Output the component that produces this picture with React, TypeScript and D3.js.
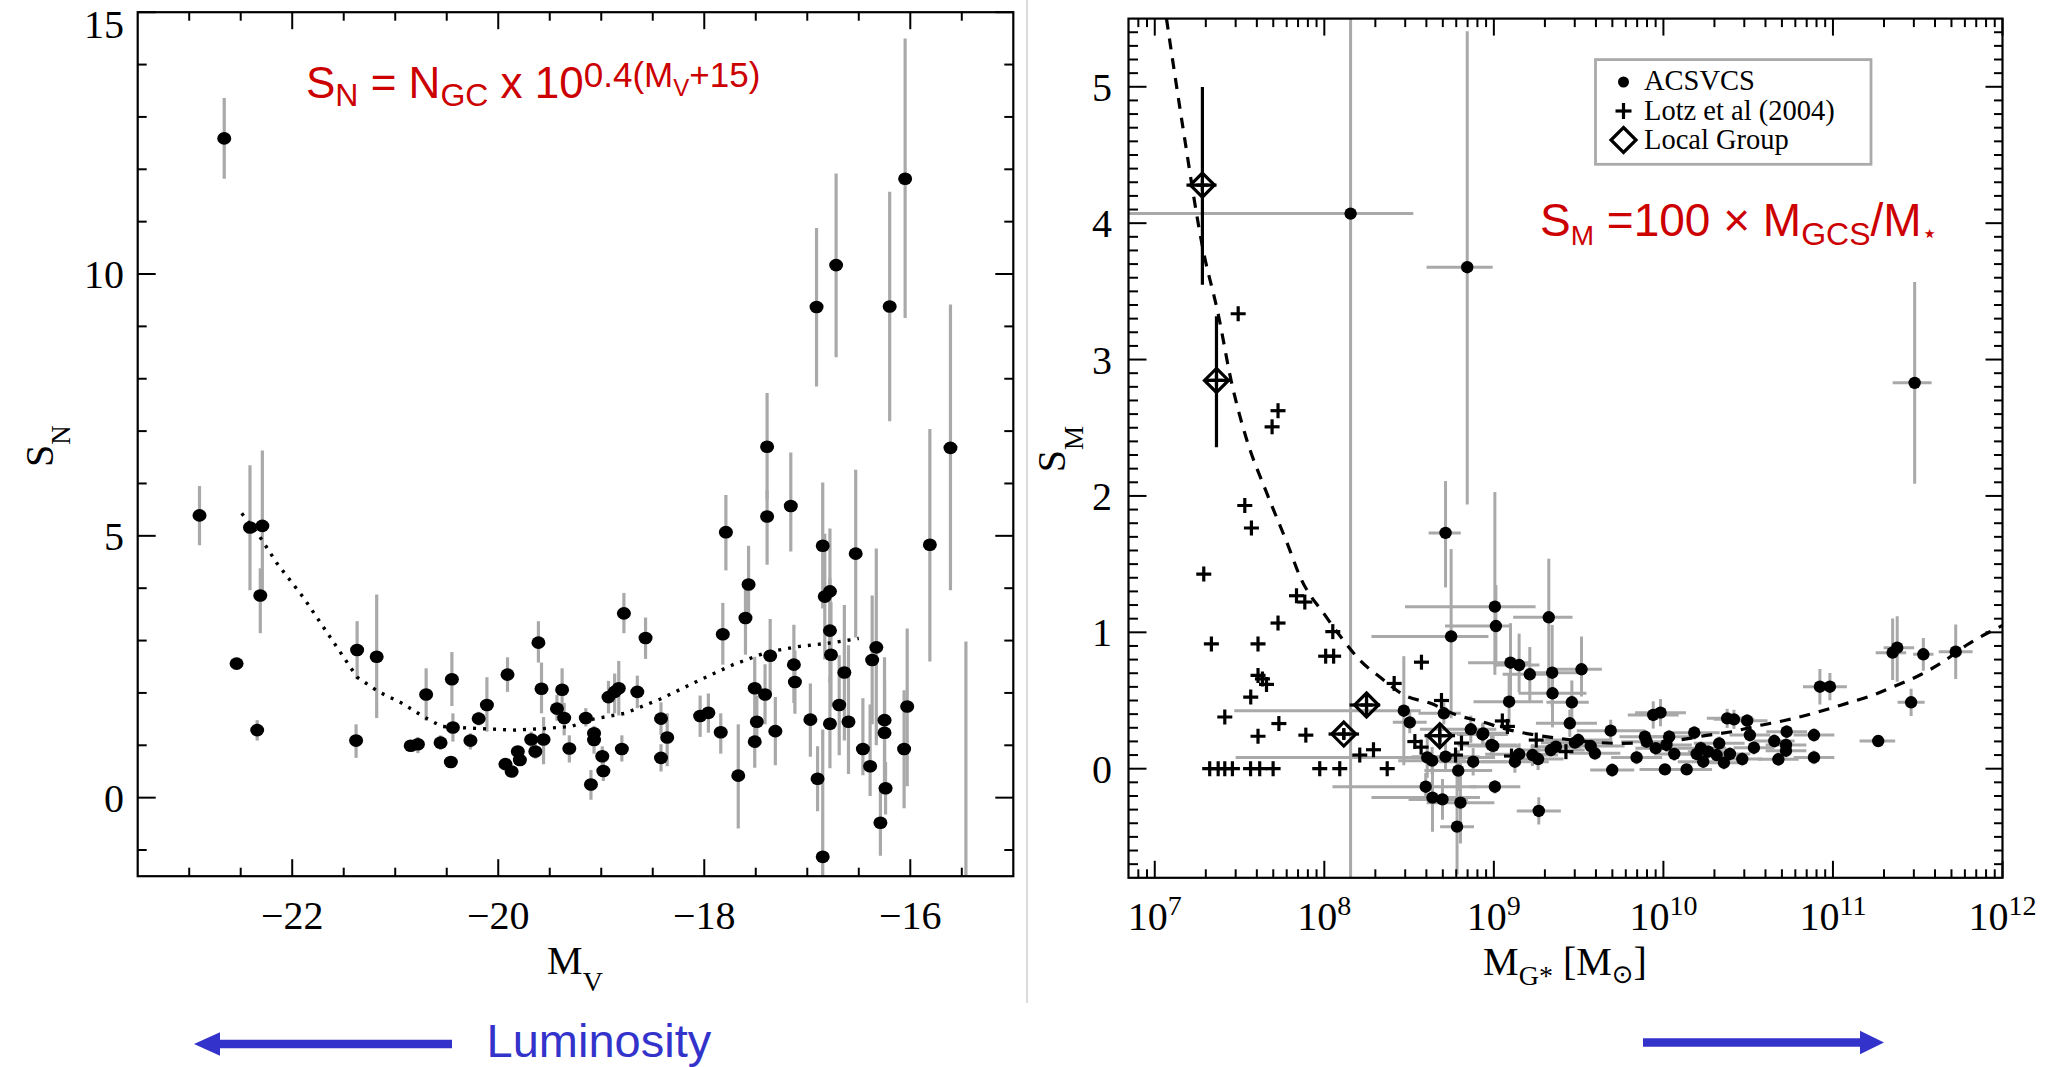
import React from "react";
import * as d3 from "d3";

// ---------------- Tick labels ----------------
const LEFT_X_TICKS = [-22, -20, -18, -16];
const LEFT_X_TICK_LABELS = ["\u221222", "\u221220", "\u221218", "\u221216"];
const LEFT_Y_TICKS = [0, 5, 10, 15];
const LEFT_Y_TICK_LABELS = ["0", "5", "10", "15"];
const RIGHT_X_EXPONENTS = [7, 8, 9, 10, 11, 12];
const RIGHT_Y_TICKS = [0, 1, 2, 3, 4, 5];
const RIGHT_Y_TICK_LABELS = ["0", "1", "2", "3", "4", "5"];

// ---------------- Left panel: [M_V, S_N, errLow, errHigh] ----------------
const snPoints = [
  [-22.9, 5.39, 0.57, 0.56], [-22.66, 12.59, 0.77, 0.77], [-22.41, 5.16, 1.2, 1.19],
  [-22.29, 5.19, 1.4, 1.44], [-22.31, 3.86, 0.72, 0.52], [-22.54, 2.56, 0, 0],
  [-22.34, 1.29, 0.2, 0.19], [-21.37, 2.82, 0.56, 0.55], [-21.18, 2.69, 1.17, 1.19],
  [-21.38, 1.09, 0.33, 0.31], [-20.85, 0.99, 0.1, 0.1], [-20.78, 1.02, 0.17, 0.14],
  [-20.7, 1.97, 0.5, 0.5], [-20.56, 1.05, 0.14, 0.14], [-20.45, 2.26, 0.51, 0.52],
  [-20.44, 1.34, 0.27, 0.27], [-20.46, 0.68, 0, 0], [-20.27, 1.09, 0.17, 0.14],
  [-20.19, 1.51, 0.13, 0.13], [-20.11, 1.77, 0.51, 0.53], [-19.91, 2.35, 0.33, 0.33],
  [-19.93, 0.64, 0.05, 0.05], [-19.87, 0.5, 0.1, 0.1], [-19.81, 0.88, 0.1, 0.1],
  [-19.79, 0.72, 0.1, 0.1], [-19.68, 1.11, 0.26, 0.15], [-19.64, 0.88, 0.14, 0.17],
  [-19.61, 2.96, 0.38, 0.41], [-19.58, 2.08, 0.47, 0.5], [-19.56, 1.11, 0.47, 0.43],
  [-19.43, 1.7, 0.23, 0.26], [-19.38, 2.06, 0.45, 0.41], [-19.36, 1.52, 0.33, 0.29],
  [-19.31, 0.94, 0.27, 0.25], [-19.15, 1.52, 0.16, 0.19], [-19.07, 1.23, 0.18, 0.14],
  [-19.07, 1.1, 0.26, 0.15], [-19.1, 0.25, 0.29, 0.28], [-18.99, 0.79, 0.19, 0.19],
  [-18.98, 0.51, 0.19, 0.19], [-18.93, 1.92, 0.31, 0.31], [-18.87, 2.02, 0.41, 0.35],
  [-18.83, 2.09, 0.52, 0.52], [-18.8, 0.93, 0.24, 0.26], [-18.78, 3.52, 0.38, 0.39],
  [-18.65, 2.02, 0.31, 0.31], [-18.57, 3.05, 0.4, 0.39], [-18.42, 1.51, 0.31, 0.31],
  [-18.42, 0.76, 0.26, 0.26], [-18.36, 1.15, 0.55, 0.46], [-18.04, 1.56, 0.4, 0.39],
  [-17.96, 1.62, 0.38, 0.37], [-17.84, 1.25, 0.41, 0.36], [-17.82, 3.12, 0.58, 0.6],
  [-17.79, 5.07, 0.73, 0.71], [-17.67, 0.42, 1.01, 0.98], [-17.6, 3.43, 0.7, 0.7],
  [-17.57, 4.07, 0.67, 0.74], [-17.51, 2.09, 0.6, 0.6], [-17.49, 1.45, 0.5, 0.5],
  [-17.51, 1.07, 0.5, 0.5], [-17.41, 1.97, 0.57, 0.58], [-17.39, 6.7, 1.0, 1.03],
  [-17.39, 5.37, 0.92, 0.5], [-17.36, 2.71, 0.76, 0.7], [-17.31, 1.27, 0.65, 0.65],
  [-17.16, 5.57, 0.87, 1.02], [-17.13, 2.54, 0.73, 0.76], [-17.12, 2.21, 0.61, 0.6],
  [-16.97, 1.49, 0.71, 0.69], [-16.9, 0.36, 0.62, 0.62], [-16.91, 9.37, 1.52, 1.51],
  [-16.72, 10.17, 1.76, 1.75], [-16.2, 9.38, 2.19, 2.19], [-16.05, 11.82, 2.66, 2.68],
  [-15.61, 6.68, 2.72, 2.74], [-16.85, 4.81, 1.2, 1.21], [-16.85, -1.13, 0.37, 2.43],
  [-16.83, 3.84, 1.2, 1.2], [-16.78, 3.94, 1.2, 1.2], [-16.78, 3.19, 1.0, 1.0],
  [-16.77, 2.73, 1.0, 1.0], [-16.78, 1.41, 0.85, 0.9], [-16.69, 1.77, 0.96, 0.95],
  [-16.64, 2.39, 1.3, 1.29], [-16.6, 1.45, 1.0, 1.46], [-16.53, 4.66, 1.6, 1.6],
  [-16.46, 0.93, 0.5, 0.97], [-16.39, 0.6, 0.57, 1.18], [-16.37, 2.63, 1.23, 1.23],
  [-16.33, 2.87, 1.87, 1.89], [-16.29, -0.48, 0.63, 0.63], [-16.25, 1.48, 1.3, 1.2],
  [-16.25, 1.24, 1.0, 1.0], [-16.24, 0.18, 0.5, 0.5], [-16.06, 0.93, 1.13, 1.12],
  [-16.03, 1.74, 1.52, 1.49], [-15.81, 4.83, 2.23, 2.21], [-15.46, -1.8, 0, 4.78],
];

// dotted trend line, [M_V, S_N]
const snTrend = [
  [-22.49, 5.43], [-22.32, 5.0], [-22.15, 4.48], [-21.89, 3.82], [-21.63, 3.06],
  [-21.37, 2.3], [-21.16, 2.02], [-20.94, 1.81], [-20.72, 1.54], [-20.55, 1.36],
  [-20.29, 1.33], [-20.07, 1.31], [-19.86, 1.29], [-19.55, 1.32], [-19.29, 1.36],
  [-19.08, 1.5], [-18.77, 1.61], [-18.43, 1.88], [-18.04, 2.25], [-17.72, 2.54],
  [-17.39, 2.78], [-17.07, 2.89], [-16.75, 2.96], [-16.5, 3.04],
];

// ---------------- Right panel ----------------
// ACSVCS: [log10 M, S_M, dexLow, dexHigh, errLow, errHigh]
const acsvcs = [
  [8.155, 4.07, 1.4, 0.37, 6, 6], [8.843, 3.677, 0.24, 0.15, 1.74, 1.73],
  [11.482, 2.829, 0.13, 0.1, 0.74, 0.74], [8.715, 1.729, 0.1, 0.09, 0.4, 0.38],
  [9.006, 1.188, 0.53, 0.24, 0.5, 0.84], [9.012, 1.046, 0.3, 0.09, 0.3, 0.3],
  [9.324, 1.11, 0.21, 0.14, 0.53, 0.43], [8.748, 0.97, 0.47, 0.22, 0.6, 0.64],
  [9.098, 0.777, 0.25, 0.11, 0.32, 0.29], [9.149, 0.76, 0.15, 0.12, 0.2, 0.23],
  [9.212, 0.692, 0.16, 0.12, 0.2, 0.2], [9.517, 0.729, 0.19, 0.12, 0.2, 0.24],
  [9.344, 0.704, 0.15, 0.15, 0.25, 0.35], [9.346, 0.553, 0.2, 0.2, 0.25, 0.2],
  [9.09, 0.491, 0.21, 0.2, 0.2, 0.2], [9.46, 0.487, 0.15, 0.1, 0.15, 0.16],
  [9.448, 0.333, 0.2, 0.16, 0.1, 0.1], [8.469, 0.425, 1.0, 0.1, 0.4, 0.4],
  [8.504, 0.34, 0.1, 0.1, 0.08, 0.08], [8.705, 0.406, 0.15, 0.1, 0.08, 0.08],
  [8.864, 0.289, 0.3, 0.15, 0.1, 0.1], [8.937, 0.259, 0.2, 0.15, 0.08, 0.08],
  [8.986, 0.174, 0.2, 0.15, 0.08, 0.08], [8.607, 0.083, 1.13, 0.4, 0.15, 0.15],
  [8.636, 0.059, 0.2, 0.2, 0.1, 0.1], [8.715, 0.088, 0.2, 0.2, 0.1, 0.1],
  [8.79, -0.014, 0.2, 0.2, 0.15, 0.15], [8.878, 0.051, 0.2, 0.2, 0.1, 0.1],
  [8.598, -0.132, 0.55, 0.3, 0.1, 0.1], [8.638, -0.212, 0.36, 0.28, 0.25, 0.25],
  [8.697, -0.225, 0.2, 0.15, 0.15, 0.15], [8.803, -0.249, 0.2, 0.2, 0.3, 0.3],
  [8.783, -0.425, 0.1, 0.1, 0.35, 0.5], [9.006, -0.132, 0.15, 0.15, 0.05, 0.05],
  [9.265, -0.31, 0.13, 0.13, 0.1, 0.1], [9.124, 0.051, 0.2, 0.2, 0.08, 0.08],
  [9.149, 0.106, 0.2, 0.2, 0.08, 0.08], [9.228, 0.1, 0.15, 0.15, 0.08, 0.08],
  [9.261, 0.071, 0.15, 0.15, 0.08, 0.08], [9.336, 0.137, 0.2, 0.2, 0.05, 0.05],
  [9.366, 0.161, 0.15, 0.15, 0.05, 0.05], [9.478, 0.191, 0.2, 0.2, 0.05, 0.05],
  [9.498, 0.21, 0.2, 0.2, 0.05, 0.05], [9.571, 0.166, 0.2, 0.2, 0.05, 0.05],
  [9.596, 0.113, 0.15, 0.15, 0.05, 0.05], [9.689, 0.279, 0.2, 0.2, 0.08, 0.08],
  [9.698, -0.01, 0.13, 0.13, 0.05, 0.05], [9.842, 0.083, 0.15, 0.15, 0.05, 0.05],
  [9.891, 0.235, 0.15, 0.15, 0.05, 0.05], [9.901, 0.198, 0.15, 0.15, 0.05, 0.05],
  [9.94, 0.394, 0.15, 0.15, 0.1, 0.1], [9.983, 0.411, 0.15, 0.15, 0.1, 0.1],
  [9.955, 0.15, 0.12, 0.12, 0.05, 0.05], [10.034, 0.235, 0.15, 0.15, 0.05, 0.05],
  [10.018, 0.174, 0.15, 0.15, 0.05, 0.05], [10.064, 0.108, 0.12, 0.12, 0.05, 0.05],
  [10.009, -0.005, 0.15, 0.15, 0.03, 0.03], [10.137, -0.005, 0.15, 0.15, 0.03, 0.03],
  [10.182, 0.264, 0.15, 0.15, 0.05, 0.05], [10.221, 0.15, 0.15, 0.15, 0.05, 0.05],
  [10.196, 0.108, 0.15, 0.15, 0.05, 0.05], [10.235, 0.051, 0.15, 0.15, 0.05, 0.05],
  [10.264, 0.125, 0.12, 0.12, 0.05, 0.05], [10.329, 0.186, 0.15, 0.15, 0.05, 0.05],
  [10.314, 0.1, 0.12, 0.12, 0.05, 0.05], [10.357, 0.044, 0.12, 0.12, 0.05, 0.05],
  [10.392, 0.108, 0.12, 0.12, 0.05, 0.05], [10.376, 0.369, 0.12, 0.12, 0.07, 0.07],
  [10.416, 0.362, 0.12, 0.12, 0.07, 0.07], [10.494, 0.352, 0.12, 0.12, 0.05, 0.05],
  [10.51, 0.247, 0.12, 0.12, 0.05, 0.05], [10.534, 0.154, 0.12, 0.12, 0.05, 0.05],
  [10.465, 0.071, 0.12, 0.12, 0.05, 0.05], [10.654, 0.203, 0.12, 0.12, 0.05, 0.05],
  [10.678, 0.069, 0.12, 0.12, 0.05, 0.05], [10.727, 0.271, 0.12, 0.12, 0.05, 0.05],
  [10.723, 0.174, 0.12, 0.12, 0.05, 0.05], [10.723, 0.132, 0.12, 0.12, 0.05, 0.05],
  [10.888, 0.247, 0.12, 0.12, 0.05, 0.05], [10.888, 0.083, 0.12, 0.12, 0.05, 0.05],
  [10.923, 0.601, 0.1, 0.06, 0.13, 0.13], [10.982, 0.601, 0.06, 0.1, 0.1, 0.1],
  [11.267, 0.203, 0.11, 0.1, 0.03, 0.03], [11.352, 0.851, 0.1, 0.08, 0.2, 0.25],
  [11.379, 0.887, 0.08, 0.1, 0.25, 0.23], [11.533, 0.839, 0.06, 0.06, 0.12, 0.12],
  [11.461, 0.487, 0.08, 0.08, 0.1, 0.1], [11.724, 0.858, 0.1, 0.1, 0.2, 0.2],
  [8.933, 0.251, 0.15, 0.15, 0.08, 0.08], [8.996, 0.167, 0.15, 0.15, 0.08, 0.08],
];

// Lotz et al (2004): [log10 M, S_M]
const lotz = [
  [7.492, 3.336], [7.727, 2.625], [7.692, 2.507], [7.531, 1.93], [7.57, 1.765],
  [7.289, 1.427], [7.334, 0.915], [7.609, 0.915], [7.727, 1.068], [7.836, 1.268],
  [7.885, 1.222], [8.05, 1.005], [8.008, 0.825], [8.055, 0.825], [7.609, 0.684],
  [7.635, 0.658], [7.659, 0.618], [7.566, 0.525], [7.413, 0.379], [7.732, 0.331],
  [7.609, 0.238], [7.891, 0.246], [8.573, 0.781], [8.412, 0.625], [8.209, 0.1],
  [8.29, 0.139], [8.534, 0.199], [8.571, 0.158], [8.691, 0.5], [8.809, 0.188],
  [8.774, 0.1], [7.324, 0], [7.374, 0], [7.413, 0], [7.458, 0], [7.565, 0],
  [7.619, 0], [7.698, 0], [7.973, 0], [8.091, 0], [8.371, 0], [9.05, 0.35],
  [9.08, 0.31], [9.104, 0.093], [9.25, 0.21], [9.425, 0.125],
];

// Local Group: [log10 M, S_M, dexLow, dexHigh, errLow, errHigh]
const localGroup = [
  [7.281, 4.279, 0.094, 0.083, 0.73, 0.72],
  [7.364, 2.847, 0.07, 0.09, 0.49, 0.47],
  [8.249, 0.467, 0.1, 0.08, 0.085, 0.085],
  [8.115, 0.254, 0.09, 0.09, 0.04, 0.04],
  [8.681, 0.242, 0.09, 0.09, 0.09, 0.09],
];

// dashed model curve: [log10 M, S_M]
const smTrend = [
  [7.069, 5.5], [7.167, 4.694], [7.285, 3.805], [7.374, 3.334], [7.452, 2.837],
  [7.541, 2.418], [7.659, 2.026], [7.787, 1.634], [7.855, 1.413], [8.007, 1.12],
  [8.111, 0.944], [8.213, 0.792], [8.337, 0.663], [8.469, 0.54], [8.627, 0.479],
  [8.78, 0.394], [8.927, 0.345], [9.075, 0.29], [9.4, 0.22], [9.743, 0.186],
  [10.087, 0.21], [10.245, 0.242], [10.402, 0.271], [10.559, 0.315], [10.727, 0.357],
  [10.884, 0.406], [11.081, 0.479], [11.238, 0.54], [11.356, 0.601], [11.513, 0.687],
  [11.651, 0.785], [11.789, 0.907], [11.926, 1.004], [12.0, 1.05],
];

const LEGEND_LABELS = ["ACSVCS", "Lotz et al (2004)", "Local Group"];

const SERIF = "'Liberation Serif', 'Times New Roman', Times, serif";
const SANS = "'Liberation Sans', Arial, Helvetica, sans-serif";
const GRAY = "#a9a9a9";
const RED = "#cc0000";
const BLUE = "#3333cc";

export default function App() {
  const L = { x0: 137.7, x1: 1013.3, y0: 12.2, y1: 876.2 };
  const R = { x0: 1128.5, x1: 2002.5, y0: 18.6, y1: 877.8 };
  const lx = d3.scaleLinear().domain([-23.5, -15]).range([L.x0, L.x1]);
  const ly = d3.scaleLinear().domain([-1.5, 15]).range([L.y1, L.y0]);
  const rx = d3.scaleLog().domain([7e6, 1e12]).range([R.x0, R.x1]);
  const ry = d3.scaleLinear().domain([-0.8, 5.5]).range([R.y1, R.y0]);
  const rxl = (v: number) => rx(Math.pow(10, v));

  const leftXMinor = d3.range(-23, -15.01, 0.5).filter((v) => Math.abs(v % 2) > 1e-6);
  const leftYMinor = d3.range(-1, 15, 1).filter((v) => v % 5 !== 0);
  const rightYMinor = d3.range(-7, 55).map((v) => v / 10).filter((v) => Math.abs(v - Math.round(v)) > 1e-6);
  const rightXMinor: number[] = [];
  for (let e = 6; e <= 11; e++) for (let k = 2; k <= 9; k++) {
    const v = k * Math.pow(10, e);
    if (v > 7.05e6 && v < 1e12) rightXMinor.push(v);
  }

  const snLine = d3.line<number[]>().x((d) => lx(d[0])).y((d) => ly(d[1]));
  const smLine = d3.line<number[]>().x((d) => rxl(d[0])).y((d) => ry(d[1])).curve(d3.curveMonotoneX);

  const tk = { stroke: "#000", strokeWidth: 2 };

  const cross = (x: number, y: number, a: number, key: string, w = 3.2) => (
    <g key={key} stroke="#000" strokeWidth={w}>
      <line x1={x - a} x2={x + a} y1={y} y2={y} />
      <line x1={x} x2={x} y1={y - a} y2={y + a} />
    </g>
  );
  const diamond = (x: number, y: number, s: number) =>
    `M${x},${y - s}L${x + s},${y}L${x},${y + s}L${x - s},${y}Z`;

  return (
    <svg width={2050} height={1067} style={{ position: "absolute", left: 0, top: 0, background: "#fff" }}>
      <rect x={0} y={0} width={2050} height={1067} fill="#fff" />
      <defs>
        <clipPath id="clipL"><rect x={L.x0} y={L.y0} width={L.x1 - L.x0} height={L.y1 - L.y0} /></clipPath>
        <clipPath id="clipR"><rect x={R.x0} y={R.y0} width={R.x1 - R.x0} height={R.y1 - R.y0} /></clipPath>
      </defs>

      {/* divider */}
      <line x1={1027} x2={1027} y1={0} y2={1003} stroke="#cfcfcf" strokeWidth={1.5} />

      {/* ============ LEFT PANEL ============ */}
      <g clipPath="url(#clipL)">
        {snPoints.filter((d) => d[2] + d[3] > 0).map((d, i) => (
          <line key={"le" + i} x1={lx(d[0])} x2={lx(d[0])} y1={ly(d[1] - d[2])} y2={ly(d[1] + d[3])}
            stroke={GRAY} strokeWidth={3.2} />
        ))}
        <path d={snLine(snTrend) || ""} fill="none" stroke="#000" strokeWidth={3.4} strokeDasharray="3 7" />
        {snPoints.map((d, i) => (
          <ellipse key={"lp" + i} cx={lx(d[0])} cy={ly(d[1])} rx={7} ry={6.3} fill="#000" />
        ))}
      </g>
      <rect x={L.x0} y={L.y0} width={L.x1 - L.x0} height={L.y1 - L.y0} fill="none" stroke="#000" strokeWidth={2.2} />
      {LEFT_X_TICKS.map((v) => (
        <g key={"lxt" + v} {...tk}>
          <line x1={lx(v)} x2={lx(v)} y1={L.y1} y2={L.y1 - 17} />
          <line x1={lx(v)} x2={lx(v)} y1={L.y0} y2={L.y0 + 17} />
        </g>
      ))}
      {leftXMinor.map((v) => (
        <g key={"lxm" + v} {...tk}>
          <line x1={lx(v)} x2={lx(v)} y1={L.y1} y2={L.y1 - 8.5} />
          <line x1={lx(v)} x2={lx(v)} y1={L.y0} y2={L.y0 + 8.5} />
        </g>
      ))}
      {LEFT_Y_TICKS.map((v) => (
        <g key={"lyt" + v} {...tk}>
          <line x1={L.x0} x2={L.x0 + 18} y1={ly(v)} y2={ly(v)} />
          <line x1={L.x1} x2={L.x1 - 18} y1={ly(v)} y2={ly(v)} />
        </g>
      ))}
      {leftYMinor.map((v) => (
        <g key={"lym" + v} {...tk}>
          <line x1={L.x0} x2={L.x0 + 9} y1={ly(v)} y2={ly(v)} />
          <line x1={L.x1} x2={L.x1 - 9} y1={ly(v)} y2={ly(v)} />
        </g>
      ))}
      <g fontFamily={SERIF} fontSize={40} fill="#000">
        {LEFT_X_TICKS.map((v, i) => (
          <text key={"lxl" + v} x={lx(v)} y={929} textAnchor="middle">{LEFT_X_TICK_LABELS[i]}</text>
        ))}
        {LEFT_Y_TICKS.map((v, i) => (
          <text key={"lyl" + v} x={124} y={Math.max(ly(v) + 14, 38)} textAnchor="end">{LEFT_Y_TICK_LABELS[i]}</text>
        ))}
        <text x={575} y={974} textAnchor="middle">M<tspan fontSize={28} dy={17}>V</tspan></text>
        <text transform="translate(53,446) rotate(-90)" textAnchor="middle">S<tspan fontSize={27} dy={17}>N</tspan></text>
      </g>
      <text x={306} y={98} fontFamily={SANS} fontSize={44} fill={RED}>
        S<tspan fontSize={32} dy={8}>N</tspan>
        <tspan dy={-8}>{" = N"}</tspan>
        <tspan fontSize={32} dy={8}>GC</tspan>
        <tspan dy={-8}>{" x 10"}</tspan>
        <tspan fontSize={35} dy={-11}>0.4(M</tspan>
        <tspan fontSize={24} dy={8.5}>V</tspan>
        <tspan fontSize={35} dy={-8.5}>+15)</tspan>
      </text>

      {/* ============ RIGHT PANEL ============ */}
      <g clipPath="url(#clipR)">
        {acsvcs.map((d, i) => (
          <g key={"re" + i} stroke={GRAY} strokeWidth={3}>
            <line x1={rxl(d[0] - d[2])} x2={rxl(d[0] + d[3])} y1={ry(d[1])} y2={ry(d[1])} />
            <line x1={rxl(d[0])} x2={rxl(d[0])} y1={ry(d[1] - d[4])} y2={ry(d[1] + d[5])} />
          </g>
        ))}
        {acsvcs.map((d, i) => (
          <circle key={"rp" + i} cx={rxl(d[0])} cy={ry(d[1])} r={6.2} fill="#000" />
        ))}
        {lotz.map((d, i) => cross(rxl(d[0]), ry(d[1]), 7.5, "lz" + i))}
        <path d={smLine(smTrend) || ""} fill="none" stroke="#000" strokeWidth={3.2} strokeDasharray="11 9" />
        {localGroup.map((d, i) => {
          const x = rxl(d[0]);
          const y = ry(d[1]);
          return (
            <g key={"lg" + i} stroke="#000" strokeWidth={3.2} fill="none">
              <line x1={rxl(d[0] - d[2])} x2={rxl(d[0] + d[3])} y1={y} y2={y} />
              <line x1={x} x2={x} y1={ry(d[1] - d[4])} y2={ry(d[1] + d[5])} />
              <line x1={x - 6} x2={x + 6} y1={y} y2={y} />
              <line x1={x} x2={x} y1={y - 6} y2={y + 6} />
              <path d={diamond(x, y, 12)} />
            </g>
          );
        })}
      </g>
      <rect x={R.x0} y={R.y0} width={R.x1 - R.x0} height={R.y1 - R.y0} fill="none" stroke="#000" strokeWidth={2.2} />
      {RIGHT_X_EXPONENTS.map((e) => {
        const x = rx(Math.pow(10, e));
        return (
          <g key={"rxt" + e} {...tk}>
            <line x1={x} x2={x} y1={R.y1} y2={R.y1 - 17} />
            <line x1={x} x2={x} y1={R.y0} y2={R.y0 + 17} />
          </g>
        );
      })}
      {rightXMinor.map((v) => (
        <g key={"rxm" + v} {...tk}>
          <line x1={rx(v)} x2={rx(v)} y1={R.y1} y2={R.y1 - 8.5} />
          <line x1={rx(v)} x2={rx(v)} y1={R.y0} y2={R.y0 + 8.5} />
        </g>
      ))}
      {RIGHT_Y_TICKS.map((v) => (
        <g key={"ryt" + v} {...tk}>
          <line x1={R.x0} x2={R.x0 + 18} y1={ry(v)} y2={ry(v)} />
          <line x1={R.x1} x2={R.x1 - 17} y1={ry(v)} y2={ry(v)} />
        </g>
      ))}
      {rightYMinor.map((v) => (
        <g key={"rym" + v} {...tk}>
          <line x1={R.x0} x2={R.x0 + 9.5} y1={ry(v)} y2={ry(v)} />
          <line x1={R.x1} x2={R.x1 - 8.5} y1={ry(v)} y2={ry(v)} />
        </g>
      ))}
      <g fontFamily={SERIF} fontSize={40} fill="#000">
        {RIGHT_X_EXPONENTS.map((e) => (
          <text key={"rxl" + e} x={rx(Math.pow(10, e))} y={930} textAnchor="middle">
            10<tspan fontSize={28} dy={-15}>{e}</tspan>
          </text>
        ))}
        {RIGHT_Y_TICKS.map((v, i) => (
          <text key={"ryl" + v} x={1112} y={ry(v) + 14} textAnchor="end">{RIGHT_Y_TICK_LABELS[i]}</text>
        ))}
        <text x={1565} y={975} textAnchor="middle">
          M<tspan fontSize={28} dy={10}>G*</tspan>
          <tspan dy={-10}>{" [M"}</tspan>
          <tspan fontSize={26} dy={8} fontFamily="'DejaVu Sans', sans-serif">{"\u2299"}</tspan>
          <tspan dy={-8}>]</tspan>
        </text>
        <text transform="translate(1065,449) rotate(-90)" textAnchor="middle">S<tspan fontSize={27} dy={18}>M</tspan></text>
      </g>

      {/* legend */}
      <rect x={1595.5} y={59.6} width={275.5} height={104.7} fill="#fff" stroke="#aaa" strokeWidth={2.8} />
      <circle cx={1623.5} cy={82} r={5.5} fill="#000" />
      {cross(1623.5, 111, 8, "legc")}
      <path d={diamond(1623.5, 140, 12.5)} fill="none" stroke="#000" strokeWidth={3.2} />
      <g fontFamily={SERIF} fontSize={28.5} fill="#000">
        <text x={1644} y={89.5}>{LEGEND_LABELS[0]}</text>
        <text x={1644} y={119.5}>{LEGEND_LABELS[1]}</text>
        <text x={1644} y={148.5}>{LEGEND_LABELS[2]}</text>
      </g>

      <text x={1540} y={236} fontFamily={SANS} fontSize={46} fill={RED}>
        S<tspan fontSize={28} dy={9}>M</tspan>
        <tspan dy={-9}>{" =100 \u00d7 M"}</tspan>
        <tspan fontSize={32} dy={9}>GCS</tspan>
        <tspan dy={-9}>/M</tspan>
        <tspan fontSize={26} dy={6} fontFamily="'DejaVu Sans', sans-serif">{"\u22c6"}</tspan>
      </text>

      {/* blue arrows */}
      <line x1={219} x2={452} y1={1044} y2={1044} stroke={BLUE} strokeWidth={8.3} />
      <path d="M194,1044L220,1032.2L220,1055.8Z" fill={BLUE} />
      <text x={486.6} y={1057} fontFamily={SANS} fontSize={47} fill={BLUE}>Luminosity</text>
      <line x1={1643} x2={1861} y1={1042.5} y2={1042.5} stroke={BLUE} strokeWidth={8.3} />
      <path d="M1884,1042.5L1860,1030.7L1860,1054.3Z" fill={BLUE} />
    </svg>
  );
}
